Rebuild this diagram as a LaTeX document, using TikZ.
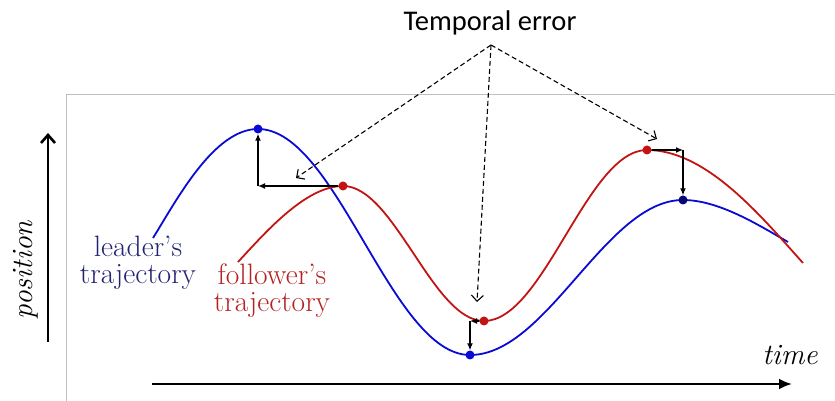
\documentclass[tikz,border=0pt]{standalone}
\usepackage{fontspec}
\newfontfamily\calfont{Carlito}
\usetikzlibrary{arrows.meta}
\definecolor{lblue}{RGB}{10,10,215}
\definecolor{lred}{RGB}{195,20,20}
\definecolor{ltxtblue}{RGB}{35,35,115}
\definecolor{ltxtred}{RGB}{180,35,35}
\begin{document}
\begin{tikzpicture}[x=1pt,y=1pt,
  frame/.style={draw=black!25, line width=0.8pt},
  axis/.style={line width=2.6pt},
  traj/.style={line width=1.8pt},
  dot/.style={circle, inner sep=0pt, minimum size=9pt},
  errarrow/.style={line width=1.3pt, -{Latex[length=7pt,width=6pt]}},
  pointer/.style={dash pattern=on 5pt off 3pt, line width=1.1pt, -{Straight Barb[length=6pt,width=12pt]}},
  lbl/.style={font=\fontsize{29.5}{27}\selectfont, align=center, inner sep=0pt},
]
\useasboundingbox (0,0) rectangle (835,401);
% frame
\draw[frame] (66,0) -- (66,307) -- (835,307);
% axes
\coordinate (pa0) at (48,59);
\coordinate (pa1) at (48,268);
\coordinate (ta0) at (152,17);
\coordinate (ta1) at (792,17);
\draw[axis, -{Straight Barb[length=8pt,width=14pt]}] (pa0) -- (pa1);
\draw[axis, -{Latex[length=13pt,width=11pt]}] (ta0) -- (ta1);
\node[lbl, rotate=90] (poslbl) at (26,131) {\itshape position};
\node[lbl] (timelbl) at (790,46) {\itshape time};
% trajectories
\coordinate (b0) at (153,163);
\coordinate (b1) at (258,272);
\coordinate (b2) at (470,46);
\coordinate (b3) at (683,201);
\coordinate (b4) at (788,159);
\coordinate (r0) at (238,139);
\coordinate (r1) at (343,215);
\coordinate (r2) at (484,80);
\coordinate (r3) at (647,251);
\coordinate (r4) at (803,138);
\draw[traj, lblue] (b0) to[out=58,in=180,looseness=0.75] (b1)
  to[out=0,in=180,looseness=0.65] (b2)
  to[out=0,in=180,looseness=0.75] (b3)
  to[out=0,in=150,looseness=0.8] (b4);
\draw[traj, lred] (r0) to[out=47,in=180,looseness=0.75] (r1)
  to[out=0,in=180,looseness=0.67] (r2)
  to[out=0,in=180,looseness=0.65] (r3)
  to[out=0,in=132,looseness=0.8] (r4);
% dots
\node[dot, fill=lblue] (pb1) at (b1) {};
\node[dot, fill=lblue] (pb2) at (b2) {};
\node[dot, fill=black!45!lblue] (pb3) at (b3) {};
\node[dot, fill=lred] (pr1) at (r1) {};
\node[dot, fill=lred] (pr2) at (r2) {};
\node[dot, fill=lred] (pr3) at (r3) {};
% error arrows
\coordinate (c1) at (258,215);
\coordinate (c2) at (470,80);
\coordinate (c3) at (683,251);
\draw[errarrow] (pr1) -- (c1);
\draw[errarrow] (c1) -- (pb1);
\draw[errarrow] (pr2) -- (c2);
\draw[errarrow] (c2) -- (pb2);
\draw[errarrow] (pr3) -- (c3);
\draw[errarrow] (c3) -- (pb3);
% labels
\node[lbl, text=ltxtblue] (leadlbl) at (138,138) {leader's\\trajectory};
\node[lbl, text=ltxtred] (follbl) at (272,110) {follower's\\trajectory};
% temporal error
\node[font=\calfont\fontsize{28.5}{28.5}\selectfont, inner sep=0pt] (te) at (490,378) {Temporal error};
\coordinate (src) at (491,356);
\coordinate (t1) at (296,223);
\coordinate (t2) at (477,99);
\coordinate (t3) at (657,262);
\draw[pointer] (src) -- (t1);
\draw[pointer] (src) -- (t2);
\draw[pointer] (src) -- (t3);
\end{tikzpicture}
\end{document}
